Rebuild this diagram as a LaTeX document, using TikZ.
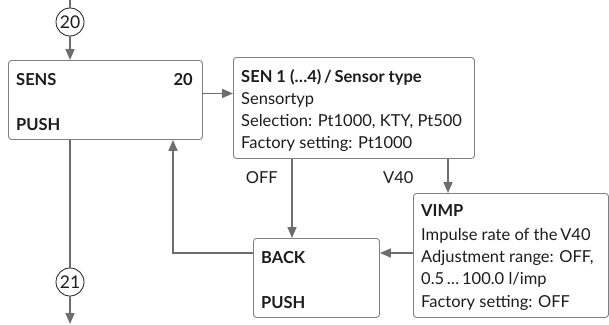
\documentclass[tikz,border=0pt]{standalone}
\usepackage{fontspec}
\setmainfont{Lato}
\usetikzlibrary{arrows.meta}
\definecolor{ln}{RGB}{108,109,114}
\definecolor{bx}{RGB}{128,128,132}
\definecolor{tx}{RGB}{30,27,28}
\newcommand\myfs{\fontsize{16.5}{22}\selectfont}
\begin{document}
\begin{tikzpicture}[x=1pt,y=-1pt,
  every node/.style={text=tx, font=\myfs},
  box/.style={draw=bx, line width=0.9pt, rounded corners=3pt, anchor=north west, inner sep=0pt},
  txt/.style={anchor=base west, inner sep=0pt},
  conn/.style={draw=ln, line width=1.6pt, -{Triangle[length=11pt,width=9pt]}},
  plain/.style={draw=ln, line width=1.6pt},
  circ/.style={circle, draw=tx, line width=0.8pt, minimum size=28pt, inner sep=0pt, fill=white, font=\fontsize{17.5}{20}\selectfont}]
\useasboundingbox (0,0) rectangle (609,324);
% boxes
\node[box, minimum width=194pt, minimum height=79pt] (sens) at (8,60) {};
\node[box, minimum width=241pt, minimum height=101pt] (sen) at (233,57) {};
\node[box, minimum width=195pt, minimum height=124pt] (vimp) at (413,193) {};
\node[box, minimum width=126pt, minimum height=79pt] (back) at (253,238) {};
% texts
\node[txt, font=\myfs\bfseries] (t1) at (16,85) {SENS};
\node[anchor=base east, inner sep=0pt, font=\myfs\bfseries] (t2) at (193,85) {20};
\node[txt, font=\myfs\bfseries] (t3) at (16,130) {PUSH};
\node[txt, font=\myfs\bfseries] (s1) at (241,82) {SEN 1 (\ldots4)\,/\,Sensor type};
\node[txt] (s2) at (241,104) {Sensortyp};
\node[txt] (s3) at (241,126) {Selection: Pt1000, KTY, Pt500};
\node[txt] (s4) at (241,148) {Factory setting: Pt1000};
\node[txt, font=\myfs\bfseries] (v1) at (421,216) {VIMP};
\node[txt] (v2) at (421,240) {Impulse rate of the\,V40};
\node[txt] (v3) at (421,262) {Adjustment range: OFF,};
\node[txt] (v4) at (421,284) {0.5\,\ldots\,100.0 l/imp};
\node[txt] (v5) at (421,307) {Factory setting: OFF};
\node[txt, font=\myfs\bfseries] (b1) at (261,263) {BACK};
\node[txt, font=\myfs\bfseries] (b2) at (261,308) {PUSH};
\node[anchor=base east, inner sep=0pt] (loff) at (278,183) {OFF};
\node[txt] (lv40) at (383,183) {V40};
% circles
\node[circ] (c20) at (70,22) {20};
\node[circ] (c21) at (70,282) {21};
% coordinates
\coordinate (ctop) at (70,0);
\coordinate (cbot) at (70,324);
\coordinate (xoff) at (292,0);
\coordinate (xv40) at (448,0);
\coordinate (yback) at (0,253);
\coordinate (xret) at (173,0);
% connectors
\draw[plain] (ctop) -- (c20);
\draw[conn] (c20.south) -- (c20.south |- sens.north);
\draw[conn] ([yshift=6.5pt]sens.east) -- ([yshift=6.5pt]sens.east -| sen.west);
\draw[conn] (sen.south -| xoff) -- (back.north -| xoff);
\draw[conn] (sen.south -| xv40) -- (vimp.north -| xv40);
\draw[conn] (vimp.west |- yback) -- (back.east |- yback);
\draw[conn] (back.west |- yback) -| (sens.south -| xret);
\draw[plain] (sens.south -| c21) -- (c21);
\draw[conn] (c21) -- (cbot);
\end{tikzpicture}
\end{document}
